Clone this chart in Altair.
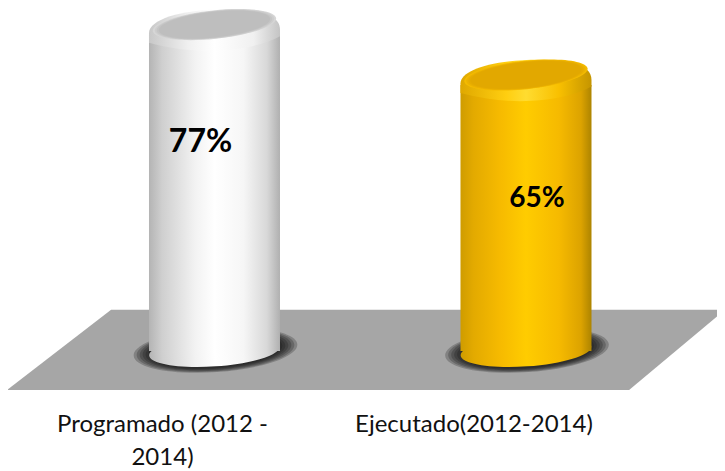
import altair as alt
import pandas as pd

# --- data
categories = ["Programado (2012 -\n2014)", "Ejecutado(2012-2014)"]
positions = [1, 2]
values = [77, 65]
value_labels = ["77%", "65%"]

floor_x = [0.334, 0.668, 2.331, 2.639]
floor_top = [-9.3, 9.8, 9.8, 9.8]
floor_bottom = [-9.3, -9.3, -9.3, 9.8]

df = pd.DataFrame({"cat": categories, "pos": positions, "v": values, "lab": value_labels, "base": [0, 0]})
floor = pd.DataFrame({"x": floor_x, "t": floor_top, "b": floor_bottom})

XS = alt.Scale(domain=[0.3371, 2.6132], nice=False, zero=False, padding=0)
YS = alt.Scale(domain=[-28.571, 81.667], nice=False, zero=False, padding=0)
X = alt.X("pos:Q", axis=None, scale=XS)
Y = alt.Y("v:Q", axis=None, scale=YS)
YB = alt.Y("base:Q", axis=None, scale=YS)


def linear(stops):
    return alt.LinearGradient(
        gradient="linear", x1=0, x2=1, y1=0, y2=0,
        stops=[alt.GradientStop(color=c, offset=o) for o, c in stops],
    )


def ellipse(ratio):
    return f"M-1,0 A1,{ratio},0,1,1,1,0 A1,{ratio},0,1,1,-1,0 Z"


CAP = "M-1,0.05 C-1,-0.14,-0.55,-0.31,0.2,-0.31 C0.6,-0.31,1,-0.26,1,0 L1,0.1 C0.6,0.32,-0.2,0.42,-1,0.2 Z"

white_body = linear([(0, "#b4b4b4"), (0.1, "#cfcfcf"), (0.35, "#f2f2f2"), (0.5, "#ffffff"),
                     (0.72, "#f6f6f6"), (0.9, "#d8d8d8"), (1, "#b0b0b0")])
gold_body = linear([(0, "#cf9c00"), (0.1, "#e3aa00"), (0.3, "#f6ba00"), (0.5, "#ffcc00"),
                    (0.75, "#f6ba00"), (0.92, "#dca300"), (1, "#ad8400")])
white_shoulder = linear([(0, "#c8c8c8"), (0.3, "#f0f0f0"), (0.5, "#ffffff"), (0.8, "#f0f0f0"), (1, "#c4c4c4")])
gold_shoulder = linear([(0, "#dfa800"), (0.35, "#ffce10"), (0.5, "#ffdc30"), (0.75, "#f9c000"), (1, "#c59500")])

floor_layer = alt.Chart(floor).mark_area(color="#a6a6a6").encode(
    x=alt.X("x:Q", axis=None, scale=XS),
    y=alt.Y("t:Q", axis=None, scale=YS),
    y2="b:Q",
)


def point(data, y, path, size, fill, angle, y_off=0, x_off=0, opacity=1):
    return alt.Chart(data).mark_point(
        shape=path, size=size, fill=fill, filled=True, opacity=opacity, strokeWidth=0,
        angle=angle, yOffset=y_off, xOffset=x_off,
    ).encode(x=X, y=y)


layers = [floor_layer]
palettes = [(white_body, white_shoulder, ["#d6d6d6", "#cdcdcd", "#c5c5c5", "#bebebe"]),
            (gold_body, gold_shoulder, ["#f4bb00", "#ecb200", "#e6ac00", "#e2a800"])]
for i, (body, shoulder, face) in enumerate(palettes):
    d = df.iloc[[i]]
    # soft contact shadow: concentric translucent ellipses
    for w in [164, 158, 152, 146, 140, 134]:
        layers.append(point(d, YB, ellipse(0.27), w * w, "#111111", 356, y_off=-1, x_off=1, opacity=0.24))
    layers.append(point(d, YB, ellipse(0.235), 17161, body, 356))
    layers.append(alt.Chart(d).mark_bar(width=131, orient="vertical", fill=body, yOffset=7,
                                        ).encode(x=X, y=Y, y2="base:Q"))
    layers.append(point(d, Y, CAP, 17161, shoulder, 0, y_off=2))
    for w, c in zip([124, 120, 116, 112], face):
        layers.append(point(d, Y, ellipse(0.23), w * w, c, 354, y_off=-3))

label77 = alt.Chart(df.iloc[[0]]).mark_text(
    font="Lato", fontWeight="bold", fontSize=32, color="black", xOffset=-14, yOffset=114
).encode(x=X, y=Y, text="lab:N")
label65 = alt.Chart(df.iloc[[1]]).mark_text(
    font="Lato", fontWeight="bold", fontSize=28, color="black", xOffset=11, yOffset=121
).encode(x=X, y=Y, text="lab:N")
cats = alt.Chart(df).mark_text(
    font="Lato", fontSize=24, color="#111111", lineBreak="\n", lineHeight=33,
    baseline="middle", xOffset=-52, yOffset=74,
).encode(x=X, y=YB, text="cat:N")

chart = alt.layer(*layers, label77, label65, cats).properties(
    width=709, height=463, padding=0, autosize=alt.AutoSizeParams(type="none"),
    background="white",
).configure_view(stroke=None)

chart.save("out.html", embed_options={"renderer": "svg", "actions": False})
